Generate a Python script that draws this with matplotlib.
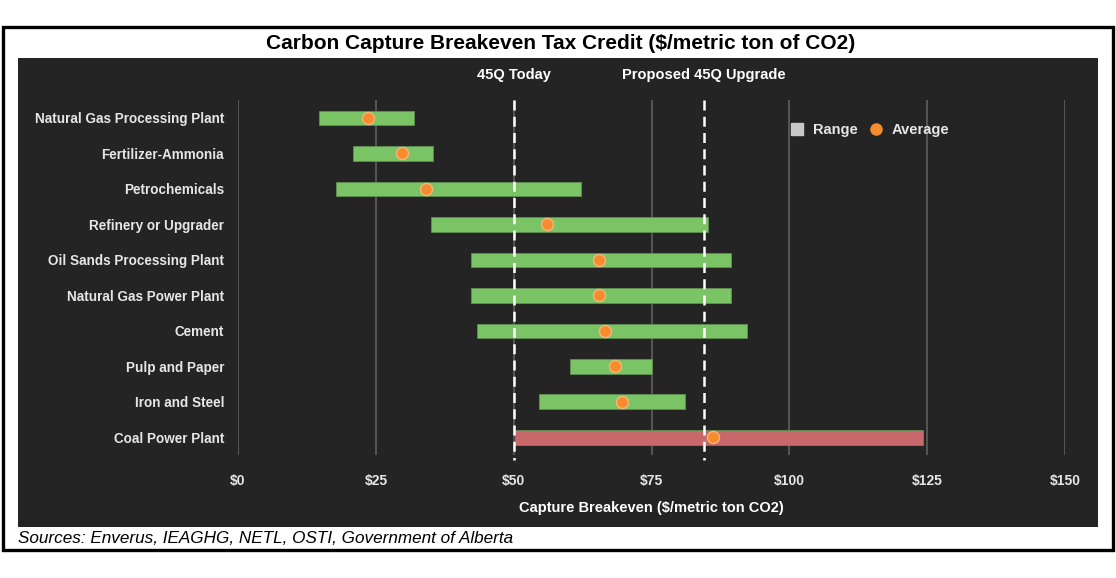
import matplotlib.pyplot as plt
from matplotlib.patches import Rectangle
from matplotlib.lines import Line2D

# Breakeven cost ranges ($/metric ton CO2)
categories = ['Natural Gas Processing Plant', 'Fertilizer-Ammonia', 'Petrochemicals',
              'Refinery or Upgrader', 'Oil Sands Processing Plant', 'Natural Gas Power Plant',
              'Cement', 'Pulp and Paper', 'Iron and Steel', 'Coal Power Plant']
range_low = [14.7, 20.9, 17.8, 35.0, 42.3, 42.3, 43.4, 60.3, 54.6, 50.3]
range_high = [31.9, 35.4, 62.2, 85.3, 89.5, 89.5, 92.4, 75.1, 81.1, 124.3]
average = [23.6, 29.8, 34.1, 56.1, 65.5, 65.5, 66.6, 68.4, 69.7, 86.2]

ref_values = [50, 84.5]
ref_labels = ['45Q Today', 'Proposed 45Q Upgrade']

xticks = [0, 25, 50, 75, 100, 125, 150]

plt.rcParams['font.family'] = ['Liberation Sans', 'DejaVu Sans']

PANEL = '#242424'
GREEN = '#7bc466'
RED = '#c9686b'
ORANGE = '#f68c2e'
TXT = '#e6e6e6'

fig = plt.figure(figsize=(11.16, 5.78), dpi=100)

# outer frame and dark panel (behind the axes)
fig.patches.append(Rectangle((0.0025, 0.049), 0.9945, 0.904, transform=fig.transFigure,
                             facecolor='white', edgecolor='black', linewidth=2.4, zorder=-2))
fig.patches.append(Rectangle((0.0161, 0.0882), 0.9677, 0.8114, transform=fig.transFigure,
                             facecolor=PANEL, edgecolor='none', zorder=-1))

fig.text(0.502, 0.925, 'Carbon Capture Breakeven Tax Credit ($/metric ton of CO2)',
         ha='center', va='center', fontsize=15, fontweight='bold', color='black')
fig.text(0.016, 0.069, 'Sources: Enverus, IEAGHG, NETL, OSTI, Government of Alberta',
         ha='left', va='center', fontsize=12.3, style='italic', color='black')

ax = fig.add_axes([0.2133, 0.2128, 0.741, 0.614])
ax.set_facecolor('none')

y = list(range(len(categories)))
colors = [RED if c == 'Coal Power Plant' else GREEN for c in categories]
widths = [h - l for l, h in zip(range_low, range_high)]
ax.barh(y, widths, left=range_low, height=0.41, color=colors,
        edgecolor='#5f8f52', linewidth=0.6, zorder=3)
ax.scatter(average, y, s=75, color=ORANGE, edgecolor='#f7b57a', linewidth=1, zorder=5)

ax.set_xlim(0, 150)
ax.set_ylim(len(categories) - 0.5, -0.5)
ax.set_xticks(xticks)
ax.set_xticklabels([f'${v}' for v in xticks])
ax.set_yticks(y)
ax.set_yticklabels(categories)
ax.grid(axis='x', color='#5a5a5a', linewidth=1.3, zorder=0)
for s in ax.spines.values():
    s.set_visible(False)
ax.tick_params(length=0, colors=TXT, labelsize=10)
ax.tick_params(axis='x', pad=14)
ax.tick_params(axis='y', pad=10, labelsize=9.75)
for lab in ax.get_xticklabels() + ax.get_yticklabels():
    lab.set_fontweight('bold')

ax.set_xlabel('Capture Breakeven ($/metric ton CO2)', color='white', fontsize=10.5,
              fontweight='bold', labelpad=9)

for v, lab in zip(ref_values, ref_labels):
    ax.plot([v, v], [-0.5, 9.65], color='white', linestyle=(0, (4, 2.5)),
            linewidth=1.8, zorder=4, clip_on=False)
    ax.text(v, -1.2, lab, ha='center', va='center', color='white',
            fontsize=10.5, fontweight='bold')

handles = [Line2D([], [], marker='s', linestyle='none', color='#c8c8c8', markersize=9),
           Line2D([], [], marker='o', linestyle='none', color=ORANGE, markersize=8)]
leg = ax.legend(handles, ['Range', 'Average'], loc='upper left', bbox_to_anchor=(0.642, 0.972),
                ncol=2, frameon=False, handletextpad=0.1, columnspacing=0.25,
                prop={'weight': 'bold', 'size': 10.5})
for t in leg.get_texts():
    t.set_color(TXT)

fig.savefig('out.png', dpi=100)
